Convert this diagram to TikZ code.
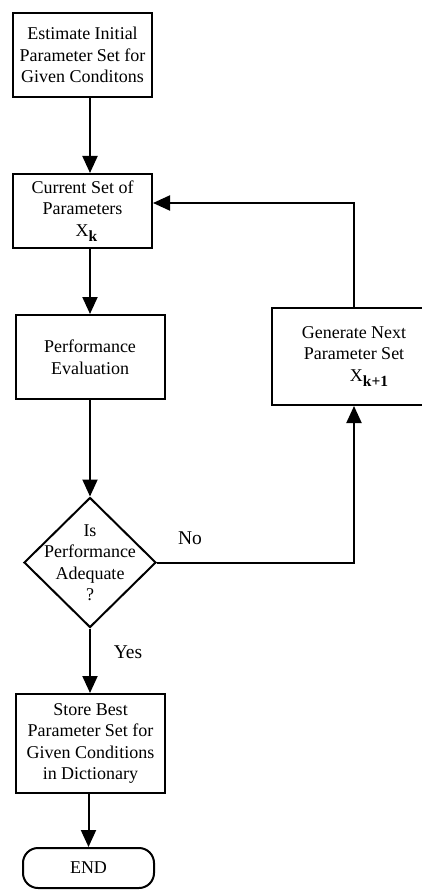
\documentclass[tikz,border=0pt]{standalone}
\usepackage{fontspec}
\setmainfont{Liberation Serif}
\usetikzlibrary{arrows.meta,shapes.geometric}
\newcommand{\subk}[1]{\raisebox{-5pt}{\fontsize{15.5}{15.5}\selectfont\bfseries #1}}
\begin{document}
\begin{tikzpicture}[x=1pt,y=-1pt,
  every node/.style={font=\fontsize{18}{21.5}\selectfont},
  box/.style={draw,line width=2pt,rectangle,inner sep=0pt,align=center},
  arr/.style={line width=2pt,-{Triangle[length=17pt,width=15pt]}},
  lbl/.style={font=\fontsize{19.5}{21}\selectfont}]
\clip (0,0) rectangle (422,890);
\node[box,minimum width=139pt,minimum height=84pt] (est) at (82.5,55) {Estimate Initial\\Parameter Set for\\Given Conditons};
\node[box,minimum width=139pt,minimum height=74pt] (cur) at (82.5,211) {Current Set of\\Parameters\\\hspace*{8pt}X\subk{k}};
\node[box,minimum width=149pt,minimum height=84pt] (perf) at (90,357) {Performance\\Evaluation};
\node[draw,diamond,line width=2pt,inner sep=0pt,minimum width=132pt,minimum height=130pt] (dia) at (90,562.5) {};
\node[align=center] (diat) at (dia.center) {Is\\Performance\\Adequate\\?};
\node[box,minimum width=164pt,minimum height=97pt] (gen) at (354,356.5) {Generate Next\\Parameter Set\\\hspace*{30pt}X\subk{k+1}};
\node[box,minimum width=149pt,minimum height=99pt] (store) at (90.5,743.5) {Store Best\\Parameter Set for\\Given Conditions\\in Dictionary};
\node[box,rounded corners=15pt,minimum width=131pt,minimum height=40pt] (end) at (88.5,868) {END};
\node[lbl] (no) at (190,538) {No};
\node[lbl] (yes) at (128,652) {Yes};
\draw[arr] (est.south -| perf) -- (cur.north -| perf);
\draw[arr] (cur.south -| perf) -- (perf.north);
\draw[arr] (perf.south) -- (dia.north);
\draw[arr] (dia.east) -| (gen.south);
\draw[arr] (gen.north) |- ([yshift=8pt]cur.east);
\draw[arr] (dia.south) -- (store.north -| dia);
\draw[arr] (store.south -| end) -- (end.north);
\end{tikzpicture}
\end{document}
